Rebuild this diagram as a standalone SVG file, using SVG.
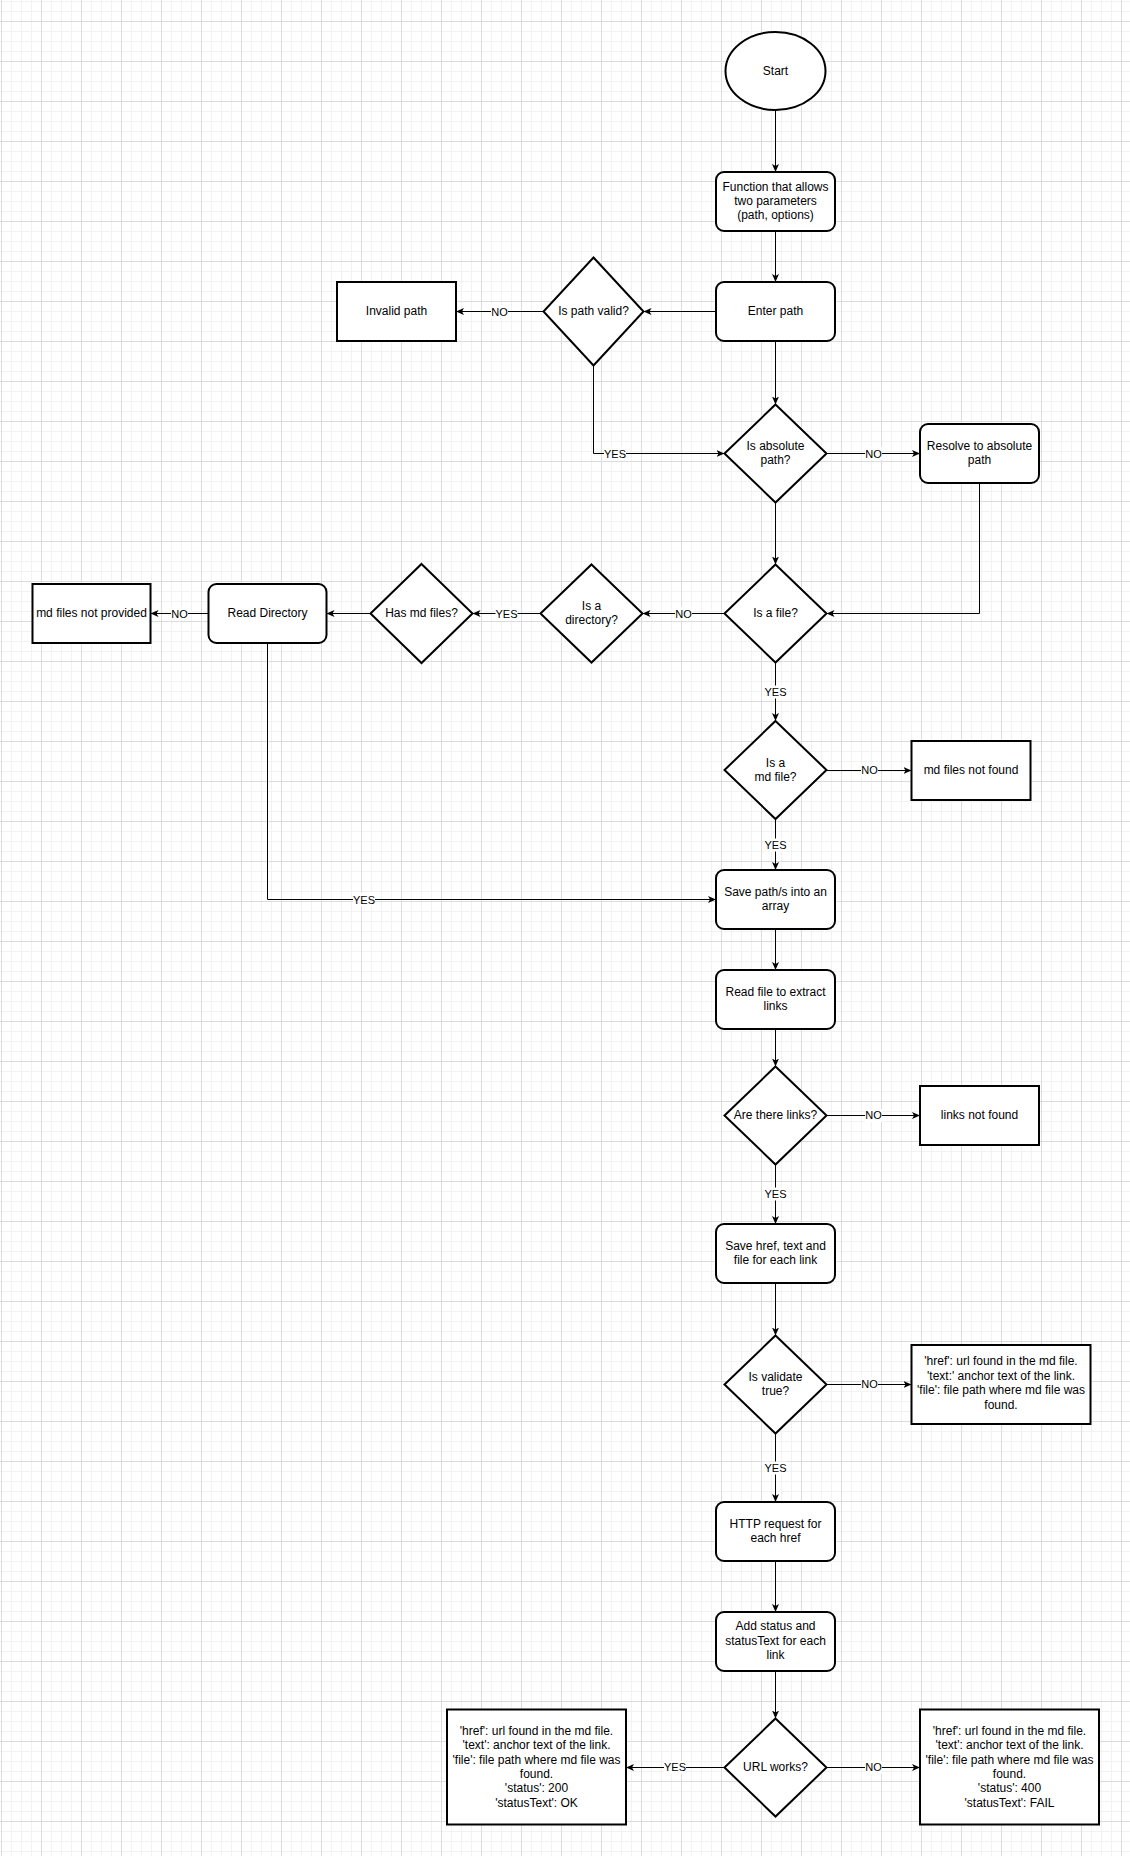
<svg xmlns="http://www.w3.org/2000/svg" width="1130" height="1856" viewBox="0 0 1130 1856">
<defs>
<pattern id="grid" x="1" y="21" width="40" height="40" patternUnits="userSpaceOnUse">
<path d="M10.5 0V40M20.5 0V40M30.5 0V40M0 10.5H40M0 20.5H40M0 30.5H40" stroke="#f2f2f2" stroke-width="1" fill="none"/>
<path d="M0.5 0V40M0 0.5H40" stroke="#dcdcdc" stroke-width="1" fill="none"/>
</pattern>
<marker id="arr" markerUnits="userSpaceOnUse" markerWidth="10" markerHeight="10" refX="8" refY="3.5" orient="auto">
<path d="M0,0 L8,3.5 L0,7 L2,3.5 z" fill="#000"/>
</marker>
<style>
.n{fill:#fff;stroke:#000;stroke-width:2}
.t{font-family:"Liberation Sans",Arial,sans-serif;font-size:12px;fill:#000;text-anchor:middle}
.e{fill:none;stroke:#000;stroke-width:1;marker-end:url(#arr)}
.lb{fill:#fff}
.l{font-family:"Liberation Sans",Arial,sans-serif;font-size:11px;fill:#000;text-anchor:middle}
</style>
</defs>
<rect x="0" y="0" width="1130" height="1856" fill="#fff"/>
<rect x="0" y="0" width="1130" height="1856" fill="url(#grid)"/>

<g id="connectors">
<path class="e" d="M775.5 110V172"/>
<path class="e" d="M775.5 231V282"/>
<path class="e" d="M716 311.5H643.5"/>
<path class="e" d="M543.5 311.5H456"/>
<path class="e" d="M593.5 365.5V453.5H724.5"/>
<path class="e" d="M775.5 341V404.5"/>
<path class="e" d="M826.5 453.5H920"/>
<path class="e" d="M979.5 483V613.5H826.5"/>
<path class="e" d="M775.5 502.5V564.5"/>
<path class="e" d="M724.5 613.5H642.5"/>
<path class="e" d="M540.5 613.5H472.5"/>
<path class="e" d="M370.5 613.5H326.5"/>
<path class="e" d="M208.5 613.5H150.5"/>
<path class="e" d="M267.5 643V899.5H716"/>
<path class="e" d="M775.5 662.5V721"/>
<path class="e" d="M826.5 770.5H911.5"/>
<path class="e" d="M775.5 819V870"/>
<path class="e" d="M775.5 929V970"/>
<path class="e" d="M775.5 1029V1066.5"/>
<path class="e" d="M826.5 1115.5H920"/>
<path class="e" d="M775.5 1163.5V1224"/>
<path class="e" d="M775.5 1283V1335.5"/>
<path class="e" d="M826.5 1384.5H911.5"/>
<path class="e" d="M775.5 1432.5V1502"/>
<path class="e" d="M775.5 1561V1612"/>
<path class="e" d="M775.5 1671V1718.5"/>
<path class="e" d="M724.5 1767.5H626"/>
<path class="e" d="M826.5 1767.5H920"/>
<g id="edge-labels">
<rect class="lb" x="491" y="305" width="17" height="13"/><text class="l" x="499.5" y="315.5">NO</text>
<rect class="lb" x="604" y="447" width="22" height="13"/><text class="l" x="615" y="457.5">YES</text>
<rect class="lb" x="865" y="447" width="17" height="13"/><text class="l" x="873.5" y="457.5">NO</text>
<rect class="lb" x="675" y="607" width="17" height="13"/><text class="l" x="683.5" y="617.5">NO</text>
<rect class="lb" x="495.5" y="607" width="22" height="13"/><text class="l" x="506.5" y="617.5">YES</text>
<rect class="lb" x="171" y="607" width="17" height="13"/><text class="l" x="179.5" y="617.5">NO</text>
<rect class="lb" x="353" y="893" width="22" height="13"/><text class="l" x="364" y="903.5">YES</text>
<rect class="lb" x="764.5" y="685.5" width="22" height="13"/><text class="l" x="775.5" y="695.5">YES</text>
<rect class="lb" x="861" y="764" width="17" height="13"/><text class="l" x="869.5" y="774">NO</text>
<rect class="lb" x="764.5" y="838.5" width="22" height="13"/><text class="l" x="775.5" y="848.5">YES</text>
<rect class="lb" x="865" y="1109" width="17" height="13"/><text class="l" x="873.5" y="1119">NO</text>
<rect class="lb" x="764.5" y="1187.5" width="22" height="13"/><text class="l" x="775.5" y="1197.5">YES</text>
<rect class="lb" x="861" y="1378" width="17" height="13"/><text class="l" x="869.5" y="1388">NO</text>
<rect class="lb" x="764.5" y="1461.5" width="22" height="13"/><text class="l" x="775.5" y="1471.5">YES</text>
<rect class="lb" x="664" y="1761" width="22" height="13"/><text class="l" x="675" y="1771">YES</text>
<rect class="lb" x="865" y="1761" width="17" height="13"/><text class="l" x="873.5" y="1771">NO</text>
</g>
</g>

<g id="start"><ellipse class="n" cx="775.5" cy="71" rx="50" ry="39"/><text class="t" x="775.5" y="74.5">Start</text></g>
<g id="function"><rect class="n" x="716" y="172" width="119" height="59" rx="8"/><text class="t" x="775.5" y="191">Function that allows</text><text class="t" x="775.5" y="205">two parameters</text><text class="t" x="775.5" y="219">(path, options)</text></g>
<g id="enter-path"><rect class="n" x="716" y="282" width="119" height="59" rx="8"/><text class="t" x="775.5" y="315">Enter path</text></g>
<g id="is-path-valid"><path class="n" d="M593.5 257.5L643.5 311.5L593.5 365.5L543.5 311.5Z"/><text class="t" x="593.5" y="315">Is path valid?</text></g>
<g id="invalid-path"><rect class="n" x="337" y="282" width="119" height="59"/><text class="t" x="396.5" y="315">Invalid path</text></g>
<g id="is-absolute"><path class="n" d="M775.5 404.5L826.5 453.5L775.5 502.5L724.5 453.5Z"/><text class="t" x="775.5" y="449.5">Is absolute</text><text class="t" x="775.5" y="463.5">path?</text></g>
<g id="resolve"><rect class="n" x="920" y="424" width="119" height="59" rx="8"/><text class="t" x="979.5" y="450">Resolve to absolute</text><text class="t" x="979.5" y="464">path</text></g>
<g id="is-file"><path class="n" d="M775.5 564.5L826.5 613.5L775.5 662.5L724.5 613.5Z"/><text class="t" x="775.5" y="617">Is a file?</text></g>
<g id="is-directory"><path class="n" d="M591.5 564.5L642.5 613.5L591.5 662.5L540.5 613.5Z"/><text class="t" x="591.5" y="610">Is a</text><text class="t" x="591.5" y="624">directory?</text></g>
<g id="has-md"><path class="n" d="M421.5 564L472.5 613.5L421.5 663L370.5 613.5Z"/><text class="t" x="421.5" y="617">Has md files?</text></g>
<g id="read-directory"><rect class="n" x="208.5" y="584" width="118" height="59" rx="8"/><text class="t" x="267.5" y="617">Read Directory</text></g>
<g id="md-not-provided"><rect class="n" x="32.5" y="584" width="118" height="59"/><text class="t" x="91.5" y="617">md files not provided</text></g>
<g id="is-md-file"><path class="n" d="M775.5 721L826.5 770L775.5 819L724.5 770Z"/><text class="t" x="775.5" y="766.5">Is a</text><text class="t" x="775.5" y="780.5">md file?</text></g>
<g id="md-not-found"><rect class="n" x="911.5" y="741" width="119" height="59"/><text class="t" x="971" y="774">md files not found</text></g>
<g id="save-paths"><rect class="n" x="716" y="870" width="119" height="59" rx="8"/><text class="t" x="775.5" y="896">Save path/s into an</text><text class="t" x="775.5" y="910">array</text></g>
<g id="read-file"><rect class="n" x="716" y="970" width="119" height="59" rx="8"/><text class="t" x="775.5" y="996">Read file to extract</text><text class="t" x="775.5" y="1010">links</text></g>
<g id="are-links"><path class="n" d="M775.5 1066.5L826.5 1115.5L775.5 1164.5L724.5 1115.5Z"/><text class="t" x="775.5" y="1119">Are there links?</text></g>
<g id="links-not-found"><rect class="n" x="920" y="1086" width="119" height="59"/><text class="t" x="979.5" y="1119">links not found</text></g>
<g id="save-href"><rect class="n" x="716" y="1224" width="119" height="59" rx="8"/><text class="t" x="775.5" y="1250">Save href, text and</text><text class="t" x="775.5" y="1264">file for each link</text></g>
<g id="is-validate"><path class="n" d="M775.5 1335.5L826.5 1384.5L775.5 1433.5L724.5 1384.5Z"/><text class="t" x="775.5" y="1381">Is validate</text><text class="t" x="775.5" y="1395">true?</text></g>
<g id="validate-output"><rect class="n" x="911.5" y="1345" width="179" height="79"/><text class="t" x="1001" y="1365">'href': url found in the md file.</text><text class="t" x="1001" y="1379.5">'text:' anchor text of the link.</text><text class="t" x="1001" y="1394">'file': file path where md file was</text><text class="t" x="1001" y="1408.5">found.</text></g>
<g id="http-request"><rect class="n" x="716" y="1502" width="119" height="59" rx="8"/><text class="t" x="775.5" y="1528">HTTP request for</text><text class="t" x="775.5" y="1542">each href</text></g>
<g id="add-status"><rect class="n" x="716" y="1612" width="119" height="59" rx="8"/><text class="t" x="775.5" y="1630">Add status and</text><text class="t" x="775.5" y="1644.5">statusText for each</text><text class="t" x="775.5" y="1659">link</text></g>
<g id="url-works"><path class="n" d="M775.5 1718.5L826.5 1767.5L775.5 1816.5L724.5 1767.5Z"/><text class="t" x="775.5" y="1771">URL works?</text></g>
<g id="result-ok"><rect class="n" x="447" y="1709.5" width="179" height="115"/><text class="t" x="536.5" y="1734.5">'href': url found in the md file.</text><text class="t" x="536.5" y="1749">'text': anchor text of the link.</text><text class="t" x="536.5" y="1763.5">'file': file path where md file was</text><text class="t" x="536.5" y="1778">found.</text><text class="t" x="536.5" y="1792">'status': 200</text><text class="t" x="536.5" y="1806.5">'statusText': OK</text></g>
<g id="result-fail"><rect class="n" x="920" y="1709.5" width="179" height="115"/><text class="t" x="1009.5" y="1734.5">'href': url found in the md file.</text><text class="t" x="1009.5" y="1749">'text': anchor text of the link.</text><text class="t" x="1009.5" y="1763.5">'file': file path where md file was</text><text class="t" x="1009.5" y="1778">found.</text><text class="t" x="1009.5" y="1792">'status': 400</text><text class="t" x="1009.5" y="1806.5">'statusText': FAIL</text></g>
</svg>
